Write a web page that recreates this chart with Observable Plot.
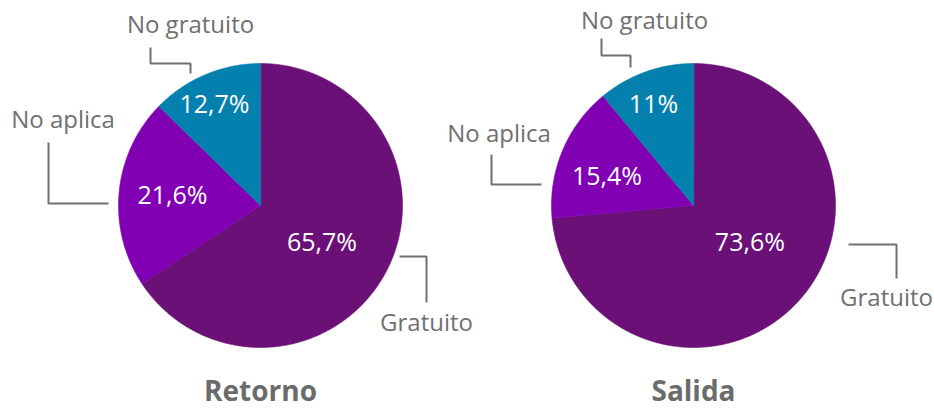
<!DOCTYPE html>
<html>
<head>
<meta charset="utf-8">
<script src="https://cdn.jsdelivr.net/npm/d3@7"></script>
<script src="https://cdn.jsdelivr.net/npm/@observablehq/plot@0.6"></script>
<style>
  html, body { margin: 0; padding: 0; background: #ffffff; }
  #chart svg { display: block; }
</style>
</head>
<body>
<div id="chart"></div>
<script>
// ---- Data ----
const categories = ["Gratuito", "No aplica", "No gratuito"];
const retornoValues = [65.7, 21.6, 12.7];
const salidaValues = [73.6, 15.4, 11];
const pieNames = ["Retorno", "Salida"];
const colors = ["#6b1077", "#8200b4", "#0480ae"];

// ---- Layout (positions, not data) ----
const W = 934, H = 408, R = 142;
const pctRadiusFrac = [0.5, 0.63, 0.77];
const pies = [
  {
    name: pieNames[0], values: retornoValues, cx: 260, cy: 205,
    pctNudge: [[-1, 4], [1, -1.5], [-3.5, 0]],
    leaders: [
      {label: [166, 118], path: [[139, 51], [166, 51], [166, 97]]},
      {label: [-197.5, -85], path: [[-152, -2], [-212, -2], [-212, -63]]},
      {label: [-70, -180.5], path: [[-70, -132], [-70, -142], [-110, -142], [-110, -158]]}
    ]
  },
  {
    name: pieNames[1], values: salidaValues, cx: 693, cy: 205,
    pctNudge: [[4, -10], [-4, 5.5], [-3, 2]],
    leaders: [
      {label: [193, 92.5], path: [[155, 39], [203, 39], [203, 73]]},
      {label: [-194.5, -71], path: [[-152, -21], [-202, -21], [-202, -51]]},
      {label: [-49, -184.4], path: [[-63, -138], [-63, -150], [-92, -150], [-92, -167]]}
    ]
  }
];

const fmt = v => String(v).replace(".", ",") + "%";

const slicePts = [], pctLabels = [], leaderPts = [], extLabels = [], titles = [];
pies.forEach((p, pi) => {
  const arcs = d3.pie().sort(null).value(d => d)(p.values);
  arcs.forEach((a, i) => {
    const id = pi + "-" + i;
    const cat = categories[i];
    slicePts.push({id, cat, x: p.cx, y: p.cy});
    const n = Math.max(2, Math.ceil((a.endAngle - a.startAngle) / (Math.PI / 360)));
    for (let k = 0; k <= n; k++) {
      const t = a.startAngle + (a.endAngle - a.startAngle) * k / n;
      slicePts.push({id, cat, x: p.cx + R * Math.sin(t), y: p.cy - R * Math.cos(t)});
    }
    const mid = (a.startAngle + a.endAngle) / 2;
    const lr = R * pctRadiusFrac[i];
    pctLabels.push({
      x: p.cx + lr * Math.sin(mid) + p.pctNudge[i][0],
      y: p.cy - lr * Math.cos(mid) + p.pctNudge[i][1],
      text: fmt(p.values[i])
    });
    const L = p.leaders[i];
    L.path.forEach(([dx, dy]) => leaderPts.push({id, x: p.cx + dx, y: p.cy + dy}));
    extLabels.push({x: p.cx + L.label[0], y: p.cy + L.label[1], text: cat});
  });
  titles.push({x: p.cx, y: 391.5, text: p.name});
});

const font = "'Open Sans', 'Noto Sans', sans-serif";

const chart = Plot.plot({
  width: W,
  height: H,
  margin: 0,
  x: {domain: [0, W], range: [0, W], axis: null},
  y: {domain: [0, H], range: [0, H], axis: null},
  color: {domain: categories, range: colors},
  style: {fontFamily: font, background: "#ffffff"},
  marks: [
    Plot.line(slicePts, {x: "x", y: "y", z: "id", fill: "cat", stroke: "cat", strokeWidth: 0.6, curve: "linear-closed"}),
    Plot.text(pctLabels, {x: "x", y: "y", text: "text", fill: "#ffffff", fontSize: 25, fontFamily: font, lineAnchor: "middle"}),
    Plot.line(leaderPts, {x: "x", y: "y", z: "id", stroke: "#707070", strokeWidth: 2, strokeLinejoin: "miter", strokeLinecap: "butt"}),
    Plot.text(extLabels, {x: "x", y: "y", text: "text", fill: "#707070", fontSize: 24, fontFamily: font, lineAnchor: "middle"}),
    Plot.text(titles, {x: "x", y: "y", text: "text", fill: "#6b6b6b", fontSize: 28, fontWeight: "bold", fontFamily: font, lineAnchor: "middle"})
  ]
});
document.getElementById("chart").appendChild(chart);
</script>
</body>
</html>
